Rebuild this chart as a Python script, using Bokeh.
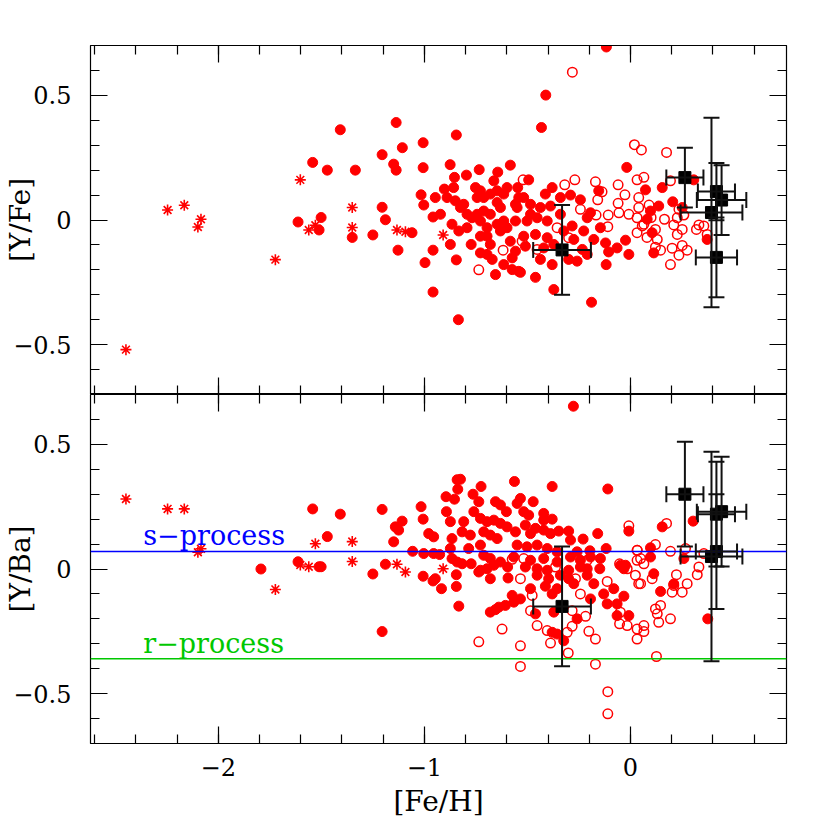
import numpy as np
from bokeh.plotting import figure
from bokeh.models import (ColumnDataSource, Range1d, LinearAxis, FixedTicker, Whisker,
                          TeeHead, Span, Label, CustomJSTickFormatter)
from bokeh.layouts import column
from bokeh.embed import file_html
from bokeh.resources import INLINE

# ---------------- data ----------------
# stars drawn as asterisks (same stars in both panels)
star_feh = [-2.448, -2.246, -2.165, -2.084, -2.099, -1.723, -1.602, -1.561, -1.529,
            -1.350, -1.350, -1.133, -1.092, -0.909]
star_yfe = [-0.52, 0.04, 0.059, 0.003, -0.028, -0.159, 0.161, -0.04, -0.021,
            0.05, -0.03, -0.04, -0.047, -0.06]
star_yba = [0.281, 0.241, 0.241, 0.081, 0.067, -0.082, 0.016, 0.009, 0.101,
            0.11, 0.03, 0.019, -0.012, 0.001]

# black squares with error bars
sq_feh = [0.264, 0.417, 0.442, 0.393, 0.417, -0.332]
sq_feh_err = [0.09, 0.09, 0.12, 0.15, 0.10, 0.14]
sq_yfe = [0.17, 0.114, 0.08, 0.03, -0.15, -0.12]
sq_yfe_err = [0.12, 0.115, 0.14, 0.38, 0.16, 0.18]
sq_yba = [0.30, 0.22, 0.23, 0.05, 0.07, -0.15]
sq_yba_err = [0.21, 0.21, 0.22, 0.42, 0.23, 0.24]

# top panel [Y/Fe], filled circles
top_fill_feh = [-1.613, -1.511, -1.501, -1.542, -1.471, -1.408, -1.335, -1.35, -1.25,
    -1.137, -0.845, -1.107, -1.006, -1.205, -1.149, -1.137, -1.006, -0.875, -0.854, -0.796,
    -0.734, -0.644, -0.583, -1.205, -1.189, -1.128, -1.06, -1.016, -1.003, -0.947, -0.958,
    -0.922, -0.874, -0.958, -0.997, -0.845, -0.773, -0.958, -0.835,
    -0.903, -0.858, -0.890, -0.850, -0.825, -0.809, -0.866, -0.833, -0.793, -0.752, -0.728,
    -0.744, -0.712, -0.680, -0.647, -0.615, -0.599, -0.663, -0.744, -0.712, -0.680, -0.728,
    -0.696, -0.647, -0.631, -0.615, -0.599, -0.583, -0.558, -0.574, -0.728, -0.696, -0.680,
    -0.728, -0.696, -0.671, -0.615, -0.655, -0.574, -0.542, -0.647, -0.631, -0.558, -0.547,
    -0.542, -0.793, -0.769,
    -0.117, -0.411, -0.432, -0.018, -0.494, -0.380, -0.518, -0.413, -0.291, -0.243, -0.154,
    0.073, -0.550, -0.485, -0.437, -0.388, -0.558, -0.502, -0.453, -0.404, -0.283, -0.210,
    -0.194, -0.227, -0.146, -0.518, -0.461, -0.404, -0.275, -0.178, -0.121, -0.024, -0.510,
    -0.437, -0.380, -0.300, -0.259, -0.106, -0.065, -0.008, -0.118, -0.534, -0.461, -0.372,
    -0.189, -0.485, -0.340, -0.324, -0.421, -0.372, -0.234, -0.210, -0.340,
    0.154, 0.205, 0.307, 0.251, 0.097, 0.137, 0.081, 0.105, 0.113, 0.372]
top_fill_y = [-0.008, -0.04, 0.01, 0.231, 0.2, 0.362, 0.20, -0.07, -0.06,
    0.391, 0.341, 0.290, 0.310, 0.262, 0.224, 0.2, 0.21, 0.222, 0.171, 0.18,
    0.202, 0.192, 0.220, 0.051, 0.001, -0.121, -0.051, 0.101, 0.06, 0.09, 0.012,
    0.023, -0.098, -0.121, -0.171, -0.16, -0.098, -0.289, -0.40,
    0.124, 0.130, 0.090, 0.077, 0.050, 0.063, -0.017, -0.044, -0.031, 0.130, 0.117,
    0.090, 0.090, 0.104, 0.117, 0.104, 0.130, 0.157, 0.023, 0.036, 0.023, -0.004,
    -0.031, -0.017, -0.044, -0.004, -0.031, -0.085, -0.125, -0.152, -0.065, -0.065, -0.098,
    -0.132, -0.138, -0.158, -0.179, -0.219, -0.199, -0.206, 0.070, 0.050, 0.063, 0.130,
    0.090, 0.023, 0.009,
    0.694, 0.501, 0.371, 0.211, 0.161, 0.130, 0.090, 0.104, 0.100, 0.081, 0.117,
    0.121, 0.050, 0.063, 0.050, 0.056, -0.004, -0.004, 0.009, -0.004, -0.024, 0.009,
    0.029, -0.044, -0.031, -0.065, -0.058, -0.071, -0.078, -0.078, -0.092, -0.081, -0.105,
    -0.158, -0.179, -0.158, -0.165, -0.128, -0.112, -0.138, -0.179, -0.210, -0.230, -0.279,
    -0.330, 0.023, 0.023, -0.044, -0.112, -0.098, -0.118, -0.138, 0.090,
    0.130, 0.073, 0.161, 0.050, 0.036, 0.056, 0.003, -0.051, -0.132, -0.078]

# top panel [Y/Fe], open circles
top_open_feh = [-0.282, -0.736, -0.618, -0.521, -0.319, -0.270, -0.170, -0.159, -0.138,
    -0.060, -0.027, -0.060, 0.019, 0.053, 0.032, 0.065, 0.040, 0.040, -0.243, -0.167,
    -0.108, -0.056, -0.008, 0.032, 0.032, -0.356, -0.300, -0.526, -0.453, 0.065, -0.110,
    0.175, 0.194, 0.235, 0.259, 0.165, 0.227, 0.210, 0.251, 0.332, 0.356, 0.320, 0.372,
    0.121, 0.130, 0.121, 0.146, 0.227, 0.202, 0.251, 0.275, 0.235, 0.194, 0.057,
    0.09, 0.10, 0.08]
top_open_y = [0.593, -0.200, -0.121, 0.161, 0.141, 0.161, 0.153, 0.081, 0.113,
    0.141, 0.101, 0.067, 0.302, 0.281, 0.161, 0.171, 0.090, 0.050, 0.043, 0.020,
    0.020, 0.029, 0.023, 0.009, -0.051, -0.031, -0.071, -0.085, -0.118, -0.017, -0.027,
    0.271, 0.157, 0.043, 0.020, 0.003, 0.009, -0.020, -0.038, -0.020, -0.024, -0.038, -0.058,
    -0.038, -0.078, -0.109, -0.121, -0.058, -0.113, -0.102, -0.121, -0.141, -0.179, -0.024,
    0.06, 0.01, -0.07]

# bottom panel [Y/Ba], filled circles
bot_fill_feh = [-1.793, -1.542, -1.471, -1.613, -1.511, -1.501, -1.408, -1.25,
    -1.205, -1.205, -1.189, -1.149, -1.141, -1.125, -1.108, -1.057, -1.016, -1.006, -1.003,
    -1.006, -0.979, -0.955, -0.955, -0.926, -0.958, -0.947, -0.917, -0.895, -0.854, -0.841,
    -0.825, -0.838, -0.893, -0.874, -0.866, -0.874, -0.866, -0.841, -0.817, -0.845, -0.845,
    -0.833, -0.817, -0.809, -0.764, -0.725, -0.736, -0.760, -0.777, -0.785, -0.773, -0.728,
    -0.696, -0.663, -0.631, -0.599, -0.655, -0.631, -0.602, -0.563, -0.550, -0.712, -0.680,
    -0.647, -0.728, -0.712, -0.680, -0.631, -0.663, -0.728, -0.696, -0.680, -0.736, -0.596,
    -0.594, -0.574, -0.566, -0.607, -0.639, -0.655, -0.680,
    -0.380, -0.110, -0.534, -0.472, -0.518, -0.494, -0.421, -0.380, -0.421, -0.510, -0.461,
    -0.421, -0.348, -0.300, -0.558, -0.485, -0.388, -0.291, -0.230, -0.159, -0.008, -0.550,
    -0.502, -0.453, -0.404, -0.356, -0.259, -0.197, -0.118, -0.566, -0.485, -0.421, -0.356,
    -0.291, -0.243, -0.194, -0.146, -0.510, -0.453, -0.404, -0.300, -0.243, -0.210, -0.149,
    -0.049, -0.032, -0.453, -0.397, -0.340, -0.300, -0.210, -0.275, -0.178, -0.413, -0.356,
    -0.485, -0.380, -0.130, -0.081, -0.032, -0.534, -0.194, -0.113, -0.065, -0.461, -0.372,
    -0.259, -0.065, -0.008, -0.380, -0.356, -0.324, -0.277,
    0.304, 0.154, 0.097, 0.097, -0.024, 0.259, 0.113, 0.146, 0.210, 0.375]
bot_fill_y = [0.000, 0.241, 0.130, 0.029, 0.009, 0.009, 0.220, -0.02,
    0.239, -0.251, 0.019, 0.109, 0.169, 0.156, 0.192, 0.071, 0.250, 0.200, 0.062,
    -0.029, 0.142, 0.129, 0.062, 0.058, -0.048, -0.039, -0.079, 0.290, 0.280, 0.358,
    0.360, 0.320, 0.230, 0.190, 0.122, 0.082, 0.042, 0.028, 0.021, -0.023, -0.070,
    -0.149, 0.149, 0.190, 0.300, 0.331, 0.270, 0.230, 0.136, 0.082, 0.021, 0.203,
    0.190, 0.196, 0.183, 0.169, 0.270, 0.257, 0.230, 0.351, 0.263, 0.149, 0.136,
    0.122, 0.096, 0.055, 0.042, 0.028, 0.015, -0.005, 0.001, -0.039, -0.012, 0.008,
    -0.036, -0.106, -0.133, -0.146, -0.153, -0.163, -0.173,
    0.331, 0.321, 0.283, 0.270, 0.230, 0.216, 0.223, 0.200, 0.196, 0.176, 0.163,
    0.156, 0.152, 0.152, 0.149, 0.142, 0.142, 0.116, 0.120, 0.142, 0.152, 0.096,
    0.089, 0.096, 0.082, 0.069, 0.069, 0.073, 0.082, 0.048, 0.035, 0.042, 0.028,
    0.048, 0.035, 0.048, 0.042, 0.008, 0.001, -0.005, -0.005, 0.008, 0.001, 0.001,
    0.015, 0.001, -0.025, -0.039, -0.025, -0.039, -0.025, -0.059, -0.059, -0.069, -0.079,
    -0.079, -0.100, -0.100, -0.079, -0.109, -0.120, -0.120, -0.140, -0.140, -0.180, -0.173,
    -0.200, -0.187, -0.187, -0.254, -0.261, -0.288, 0.653,
    0.192, 0.169, 0.085, 0.048, 0.015, 0.042, -0.019, -0.090, -0.060, -0.200]

# bottom panel [Y/Ba], open circles
bot_open_feh = [-0.574, -0.534, -0.623, -0.736, -0.534, -0.534,
    -0.008, -0.518, -0.364, -0.267, -0.210, -0.113, -0.243, -0.053, 0.032, 0.032, 0.024,
    0.049, -0.477, -0.485, -0.283, -0.218, -0.453, -0.404, -0.283, -0.307, -0.202, -0.170,
    -0.388, -0.302, -0.170, -0.110, -0.110, -0.053, -0.016, 0.032, 0.065, 0.032, -0.049,
    0.175, 0.121, 0.033, 0.194, 0.267, 0.356, 0.049, 0.065, -0.016, 0.332, 0.324, 0.040,
    0.105, 0.223, 0.210, 0.275, 0.251, 0.202, 0.121, 0.146, 0.130, 0.194, 0.065, 0.126,
    0.137]
bot_open_y = [0.039, -0.039, -0.241, -0.292, -0.308, -0.391,
    0.173, 0.042, 0.008, -0.039, 0.035, -0.050, -0.100, 0.021, 0.075, 0.035, -0.025,
    -0.059, -0.106, -0.167, -0.167, -0.190, -0.227, -0.247, -0.230, -0.254, -0.250, -0.281,
    -0.297, -0.337, -0.382, -0.492, -0.581, -0.220, -0.227, -0.241, -0.227, -0.281, -0.173,
    0.183, 0.098, 0.075, 0.071, 0.082, 0.062, 0.042, 0.021, 0.001, 0.008, -0.023, -0.059,
    -0.039, -0.023, -0.066, -0.059, -0.093, -0.093, -0.160, -0.146, -0.180, -0.200, -0.251,
    -0.351, -0.214]

s_process_level = 0.07
r_process_level = -0.36

x_major = [-2, -1, 0]
x_minor = [-2.6, -2.4, -2.2, -2.0, -1.8, -1.6, -1.4, -1.2, -1.0, -0.8, -0.6, -0.4,
           -0.2, 0.0, 0.2, 0.4, 0.6]
y_major = [-0.5, 0, 0.5]
y_minor = [-0.6, -0.5, -0.4, -0.3, -0.2, -0.1, 0.0, 0.1, 0.2, 0.3, 0.4, 0.5, 0.6]

# ---------------- styling ----------------
FONT = "DejaVu Serif"
RED = "#ff0000"
GREEN = "#00c800"
fmt = CustomJSTickFormatter(code="return (tick < 0 ? '\u2212' : '') + Math.abs(tick).toString();")
blank_fmt = CustomJSTickFormatter(code="return '';")


def add_axis(p, loc, show_labels, label=None):
    if loc in ("below", "above"):
        ticker = FixedTicker(ticks=x_major, minor_ticks=x_minor)
    else:
        ticker = FixedTicker(ticks=y_major, minor_ticks=y_minor)
    ax = LinearAxis(ticker=ticker,
                    major_tick_in=17, major_tick_out=0, minor_tick_in=9, minor_tick_out=0,
                    axis_line_color="black", axis_line_width=1.2,
                    major_tick_line_color="black", major_tick_line_width=1.2,
                    minor_tick_line_color="black", minor_tick_line_width=1.2)
    if show_labels:
        ax.formatter = fmt
        ax.major_label_text_font = FONT
        ax.major_label_text_font_size = "24px"
        ax.major_label_text_color = "black"
        ax.major_label_standoff = 19 if loc == "left" else 14
    else:
        ax.formatter = blank_fmt
        ax.major_label_text_font_size = "1px"
        ax.major_label_standoff = 0
    if label is not None:
        ax.axis_label = label
        ax.axis_label_text_font = FONT
        ax.axis_label_text_font_size = "28px"
        ax.axis_label_text_font_style = "normal"
        ax.axis_label_text_color = "black"
        ax.axis_label_standoff = -27 if loc == "left" else 6
    p.add_layout(ax, loc)


def make_panel(height, top_border, bottom_border, ylabel, is_bottom):
    p = figure(width=816, height=height, output_backend="svg", toolbar_location=None,
               x_range=Range1d(-2.62, 0.757), y_range=Range1d(-0.70, 0.70),
               x_axis_location=None, y_axis_location=None,
               min_border_left=90, min_border_right=30,
               min_border_top=top_border, min_border_bottom=bottom_border)
    p.grid.visible = False
    p.outline_line_color = "black"
    p.background_fill_color = "white"
    p.border_fill_color = "white"
    add_axis(p, "left", True, ylabel)
    add_axis(p, "right", False)
    add_axis(p, "above", False)
    if is_bottom:
        add_axis(p, "below", True, "[Fe/H]")
    else:
        add_axis(p, "below", False)
    return p


def draw(p, fill_x, fill_y, open_x, open_y, star_y, sq_y, sq_yerr):
    p.scatter(fill_x, fill_y, marker="circle", size=10, fill_color=RED, line_color=RED)
    p.scatter(open_x, open_y, marker="circle", size=9.5, fill_color=None, line_color=RED,
              line_width=1.5)
    p.scatter(star_feh, star_y, marker="asterisk", size=11, line_color=RED, line_width=1.6)
    sx = np.array(sq_feh)
    sxe = np.array(sq_feh_err)
    sy = np.array(sq_y)
    sye = np.array(sq_yerr)
    src = ColumnDataSource(dict(x=sx, y=sy, xlo=sx - sxe, xhi=sx + sxe, ylo=sy - sye, yhi=sy + sye))
    for base, lo, hi, dim in (("x", "ylo", "yhi", "height"), ("y", "xlo", "xhi", "width")):
        p.add_layout(Whisker(source=src, base=base, lower=lo, upper=hi, dimension=dim,
                             line_color="#111111", line_width=2, level="overlay",
                             upper_head=TeeHead(size=16, line_color="#111111", line_width=2),
                             lower_head=TeeHead(size=16, line_color="#111111", line_width=2)))
    p.scatter("x", "y", source=src, marker="square", size=12, fill_color="black",
              line_color="black")


top = make_panel(394, 45, 0, "[Y/Fe]", False)
draw(top, top_fill_feh, top_fill_y, top_open_feh, top_open_y, star_yfe, sq_yfe, sq_yfe_err)

bot = make_panel(434, 0, 85, "[Y/Ba]", True)
draw(bot, bot_fill_feh, bot_fill_y, bot_open_feh, bot_open_y, star_yba, sq_yba, sq_yba_err)
bot.add_layout(Span(location=s_process_level, dimension="width", line_color="#0000ff",
                    line_width=1.5))
bot.add_layout(Span(location=r_process_level, dimension="width", line_color=GREEN,
                    line_width=1.5))
bot.add_layout(Label(x=-2.364, y=0.135, text="s\u2212process", text_font=FONT,
                     text_font_size="27px", text_color="#0000ff", text_baseline="alphabetic"))
bot.add_layout(Label(x=-2.364, y=-0.297, text="r\u2212process", text_font=FONT,
                     text_font_size="27px", text_color=GREEN, text_baseline="alphabetic"))

layout = column(top, bot)
open("out.html", "w").write(file_html(layout, INLINE))
